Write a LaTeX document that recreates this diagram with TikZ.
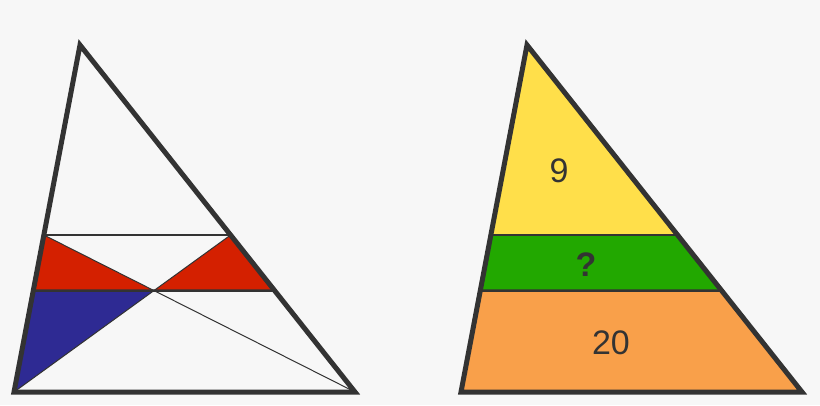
\documentclass[tikz,border=0pt]{standalone}
\usepackage{fontspec}
\setmainfont{Liberation Sans}
\usepackage{tikz}
\usetikzlibrary{calc}
\definecolor{dark}{HTML}{333333}
\definecolor{paper}{HTML}{F7F7F7}
\definecolor{redpart}{HTML}{D42000}
\definecolor{bluepart}{HTML}{2E2A93}
\definecolor{yellowpart}{HTML}{FFDF4A}
\definecolor{greenpart}{HTML}{22A800}
\definecolor{orangepart}{HTML}{F9A04A}

\begin{document}
\begin{tikzpicture}[x=1pt,y=-1pt,
  frame/.style={draw=dark,line width=5pt},
  band/.style={draw=dark,line width=2.5pt},
  diag/.style={draw=dark,line width=1pt},
  num/.style={text=dark,font=\fontsize{34}{34}\selectfont}]
\fill[paper] (0,0) rectangle (820,405);
\useasboundingbox (0,0) rectangle (820,405);
% left triangle
\coordinate (A) at (80,45);
\coordinate (B) at (14,392);
\coordinate (C) at (355,392);
\coordinate (P) at ($(A)!0.5476!(B)$);
\coordinate (Q) at ($(A)!0.5476!(C)$);
\coordinate (X) at (intersection of P--C and Q--B);
\coordinate (Xr) at ($(X)+(10,0)$);
\coordinate (R) at (intersection of A--B and X--Xr);
\coordinate (S) at (intersection of A--C and X--Xr);
\fill[redpart] (P) -- (R) -- (X) -- cycle;
\fill[redpart] (Q) -- (X) -- (S) -- cycle;
\fill[bluepart] (R) -- (X) -- (B) -- cycle;
\path [diag] (P) edge (C);
\path [diag] (Q) edge (B);
\path [band] (P) edge (Q);
\path [band] (R) edge (S);
\draw [frame] (A) -- (B) -- (C) -- cycle;
% right triangle
\coordinate (A2) at (527,45);
\coordinate (B2) at (461,392);
\coordinate (C2) at (802,392);
\coordinate (P2) at ($(A2)!0.5476!(B2)$);
\coordinate (Q2) at ($(A2)!0.5476!(C2)$);
\coordinate (R2) at ($(R)+(447,0)$);
\coordinate (S2) at ($(S)+(447,0)$);
\fill[yellowpart] (A2) -- (P2) -- (Q2) -- cycle;
\fill[greenpart] (P2) -- (R2) -- (S2) -- (Q2) -- cycle;
\fill[orangepart] (R2) -- (B2) -- (C2) -- (S2) -- cycle;
\path [band] (P2) edge (Q2);
\path [band] (R2) edge (S2);
\draw [frame] (A2) -- (B2) -- (C2) -- cycle;
\node[num] (nine) at (559,171) {9};
\node[num,font=\fontsize{34}{34}\selectfont\bfseries] (what) at (586,265) {?};
\node[num] (twenty) at (611,343) {20};
\end{tikzpicture}
\end{document}
